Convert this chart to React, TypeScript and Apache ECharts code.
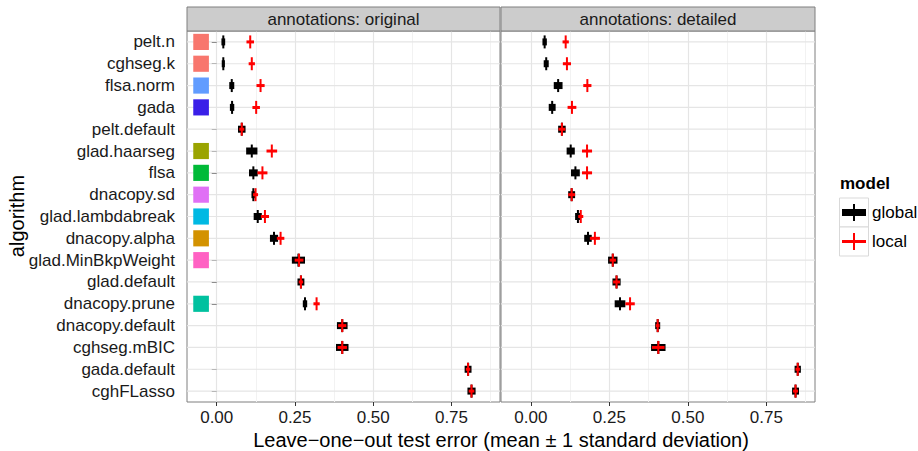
import React, { useEffect, useRef } from "react";
import * as echarts from "echarts";

const categories = [
  "pelt.n", "cghseg.k", "flsa.norm", "gada", "pelt.default", "glad.haarseg", "flsa",
  "dnacopy.sd", "glad.lambdabreak", "dnacopy.alpha", "glad.MinBkpWeight", "glad.default",
  "dnacopy.prune", "dnacopy.default", "cghseg.mBIC", "gada.default", "cghFLasso",
];

// colour of the annotation square (null = no square)
const annotationColors: (string | null)[] = [
  "#F8766D", "#F8766D", "#619CFF", "#3A1FE8", null, "#9AA400", "#00BA38",
  "#E070F5", "#00B9E3", "#D39200", "#FF61C3", null, "#00C19F", null, null, null, null,
];

const panels = ["annotations: original", "annotations: detailed"];

const originalGlobalMean = [0.021, 0.021, 0.048, 0.049, 0.080, 0.112, 0.117, 0.117, 0.131, 0.183, 0.261, 0.269, 0.282, 0.401, 0.401, 0.803, 0.814];
const originalGlobalSd = [0.006, 0.005, 0.008, 0.007, 0.012, 0.018, 0.014, 0.006, 0.013, 0.013, 0.021, 0.011, 0.007, 0.017, 0.020, 0.011, 0.013];
const originalLocalMean = [0.107, 0.112, 0.140, 0.126, 0.080, 0.176, 0.146, 0.124, 0.154, 0.204, 0.263, 0.269, 0.319, 0.401, 0.401, 0.803, 0.814];
const originalLocalSd = [0.012, 0.010, 0.013, 0.012, 0.008, 0.017, 0.016, 0.008, 0.013, 0.012, 0.014, 0.007, 0.010, 0.013, 0.015, 0.007, 0.009];

const detailedGlobalMean = [0.044, 0.049, 0.087, 0.068, 0.099, 0.127, 0.142, 0.130, 0.150, 0.182, 0.261, 0.273, 0.284, 0.404, 0.406, 0.850, 0.843];
const detailedGlobalSd = [0.007, 0.008, 0.014, 0.011, 0.012, 0.013, 0.014, 0.011, 0.009, 0.012, 0.015, 0.013, 0.017, 0.008, 0.023, 0.010, 0.011];
const detailedLocalMean = [0.111, 0.115, 0.180, 0.131, 0.099, 0.179, 0.179, 0.130, 0.159, 0.204, 0.261, 0.273, 0.316, 0.404, 0.406, 0.850, 0.843];
const detailedLocalSd = [0.010, 0.013, 0.013, 0.014, 0.011, 0.016, 0.016, 0.011, 0.008, 0.016, 0.010, 0.011, 0.015, 0.006, 0.020, 0.007, 0.008];

const majorTicks = [0, 0.25, 0.5, 0.75];
const minorTicks = [0.125, 0.375, 0.625, 0.875];
const X_MIN = -0.095;
const X_MAX = 0.905;
const squareX = -0.05;

const FONT = "'Liberation Sans', Arial, Helvetica, sans-serif";
const GLOBAL_COLOR = "#000000";
const LOCAL_COLOR = "#FF0000";

const gridBoxes = [
  { left: 187, top: 31, width: 313, height: 371 },
  { left: 501, top: 31, width: 314, height: 371 },
];

function markSeries(name: string, means: number[], sds: number[], color: string, thick: number, gridIdx: number, z: number) {
  return {
    type: "custom",
    name,
    xAxisIndex: gridIdx,
    yAxisIndex: gridIdx,
    z,
    silent: true,
    encode: { x: 0, y: 1 },
    data: categories.map((_, i) => [means[i], i, sds[i]]),
    renderItem: (params: any, api: any) => {
      const m = api.value(0);
      const c = api.value(1);
      const sd = api.value(2);
      const l = api.coord([m - sd, c]);
      const r = api.coord([m + sd, c]);
      const ctr = api.coord([m, c]);
      return {
        type: "group",
        children: [
          {
            type: "rect",
            shape: { x: l[0], y: ctr[1] - thick / 2, width: Math.max(r[0] - l[0], 1), height: thick },
            style: { fill: color },
          },
          {
            type: "line",
            shape: { x1: ctr[0], y1: ctr[1] - 6.5, x2: ctr[0], y2: ctr[1] + 6.5 },
            style: { stroke: color, lineWidth: 2 },
          },
        ],
      };
    },
  };
}

function gridLineSeries(gridIdx: number) {
  return {
    type: "custom",
    xAxisIndex: gridIdx,
    yAxisIndex: gridIdx,
    z: 1,
    silent: true,
    encode: { y: 0 },
    data: categories.map((_, i) => [i]),
    renderItem: (params: any, api: any) => {
      const y = api.coord([0, api.value(0)])[1];
      const cs = params.coordSys;
      return {
        type: "line",
        shape: { x1: cs.x, y1: y, x2: cs.x + cs.width, y2: y },
        style: { stroke: "#E5E5E5", lineWidth: 1.2 },
      };
    },
  };
}

export default function App() {
  const ref = useRef<HTMLDivElement>(null);

  useEffect(() => {
    if (!ref.current) return;
    const chart = echarts.init(ref.current, undefined, { renderer: "svg" });

    const grid = gridBoxes.map((g) => ({ ...g, show: true, borderColor: "#7F7F7F", borderWidth: 1, backgroundColor: "#FFFFFF" }));

    const majorX = gridBoxes.map((_, gi) => ({
      type: "value",
      gridIndex: gi,
      min: X_MIN,
      max: X_MAX,
      axisLine: { show: false },
      axisTick: { show: true, length: 4, customValues: majorTicks, lineStyle: { color: "#333333", width: 1 } },
      axisLabel: {
        customValues: majorTicks,
        formatter: (v: number) => v.toFixed(2),
        fontSize: 17,
        fontFamily: FONT,
        color: "#1A1A1A",
        margin: 7,
      },
      splitLine: { show: true, lineStyle: { color: "#E5E5E5", width: 1.2 } },
    }));
    const minorX = gridBoxes.map((_, gi) => ({
      type: "value",
      gridIndex: gi,
      position: "top",
      min: X_MIN,
      max: X_MAX,
      axisLine: { show: false },
      axisTick: { show: false, customValues: minorTicks },
      axisLabel: { show: false },
      splitLine: { show: true, lineStyle: { color: "#F2F2F2", width: 1 } },
    }));

    const yAxes = gridBoxes.map((_, gi) => ({
      type: "category",
      gridIndex: gi,
      data: categories,
      inverse: true,
      axisLine: { show: false },
      axisTick: { show: gi === 0, interval: 0, alignWithLabel: true, length: 5, lineStyle: { color: "#333333" } },
      axisLabel: {
        show: gi === 0,
        interval: 0,
        fontSize: 17,
        fontFamily: FONT,
        color: "#1A1A1A",
        margin: 12,
      },
      splitLine: { show: false },
    }));

    const squareData = categories
      .map((_, i) => ({ value: [squareX, i], color: annotationColors[i] }))
      .filter((d) => d.color !== null);

    const squares = {
      type: "custom",
      xAxisIndex: 0,
      yAxisIndex: 0,
      z: 2,
      silent: true,
      encode: { x: 0, y: 1 },
      data: squareData.map((d) => d.value),
      renderItem: (params: any, api: any) => {
        const ctr = api.coord([api.value(0), api.value(1)]);
        const w = api.size([0.05, 0])[0];
        const h = api.size([0, 1])[1] * 0.74;
        const color = squareData[params.dataIndex].color as string;
        return {
          type: "rect",
          shape: { x: ctr[0] - w / 2, y: ctr[1] - h / 2, width: w, height: h },
          style: { fill: color },
        };
      },
    };

    const graphic: any[] = [];
    gridBoxes.forEach((g, gi) => {
      graphic.push({
        type: "rect",
        shape: { x: g.left, y: 7, width: g.width, height: g.top - 7 },
        style: { fill: "#CCCCCC", stroke: "#7F7F7F", lineWidth: 1 },
        z: 10,
      });
      graphic.push({
        type: "text",
        x: g.left + g.width / 2,
        y: 19.5,
        style: {
          text: panels[gi],
          fontSize: 17,
          fontFamily: FONT,
          fill: "#1A1A1A",
          textAlign: "center",
          textVerticalAlign: "middle",
        },
        z: 11,
      });
    });
    graphic.push({
      type: "text",
      x: 501,
      y: 440,
      style: {
        text: "Leave\u2212one\u2212out test error (mean \u00b1 1 standard deviation)",
        fontSize: 20,
        fontFamily: FONT,
        fill: "#000000",
        textAlign: "center",
        textVerticalAlign: "middle",
      },
    });
    graphic.push({
      type: "text",
      x: 17,
      y: 216,
      rotation: Math.PI / 2,
      style: {
        text: "algorithm",
        fontSize: 20,
        fontFamily: FONT,
        fill: "#000000",
        textAlign: "center",
        textVerticalAlign: "middle",
      },
    });
    // legend
    graphic.push({
      type: "text",
      x: 840,
      y: 183,
      style: { text: "model", fontSize: 17, fontWeight: "bold", fontFamily: FONT, fill: "#000", textVerticalAlign: "middle" },
    });
    const keys = [
      { label: "global", color: GLOBAL_COLOR, thick: 7, y: 198 },
      { label: "local", color: LOCAL_COLOR, thick: 3, y: 227 },
    ];
    keys.forEach((k) => {
      graphic.push({
        type: "rect",
        shape: { x: 839.5, y: k.y, width: 29, height: 29 },
        style: { fill: "#FFFFFF", stroke: "#D9D9D9", lineWidth: 1 },
      });
      graphic.push({
        type: "rect",
        shape: { x: 842, y: k.y + 14.5 - k.thick / 2, width: 24, height: k.thick },
        style: { fill: k.color },
      });
      graphic.push({
        type: "line",
        shape: { x1: 854, y1: k.y + 6, x2: 854, y2: k.y + 23 },
        style: { stroke: k.color, lineWidth: 2 },
      });
      graphic.push({
        type: "text",
        x: 872,
        y: k.y + 14.5,
        style: { text: k.label, fontSize: 17, fontFamily: FONT, fill: "#000", textVerticalAlign: "middle" },
      });
    });

    chart.setOption({
      animation: false,
      backgroundColor: "#FFFFFF",
      grid,
      xAxis: [...majorX, ...minorX],
      yAxis: yAxes,
      series: [
        gridLineSeries(0),
        gridLineSeries(1),
        squares,
        markSeries("global", originalGlobalMean, originalGlobalSd, GLOBAL_COLOR, 7, 0, 3),
        markSeries("local", originalLocalMean, originalLocalSd, LOCAL_COLOR, 3, 0, 4),
        markSeries("global", detailedGlobalMean, detailedGlobalSd, GLOBAL_COLOR, 7, 1, 3),
        markSeries("local", detailedLocalMean, detailedLocalSd, LOCAL_COLOR, 3, 1, 4),
      ],
      graphic,
    });

    return () => chart.dispose();
  }, []);

  return <div ref={ref} style={{ position: "fixed", left: 0, top: 0, width: 918, height: 451 }} />;
}
